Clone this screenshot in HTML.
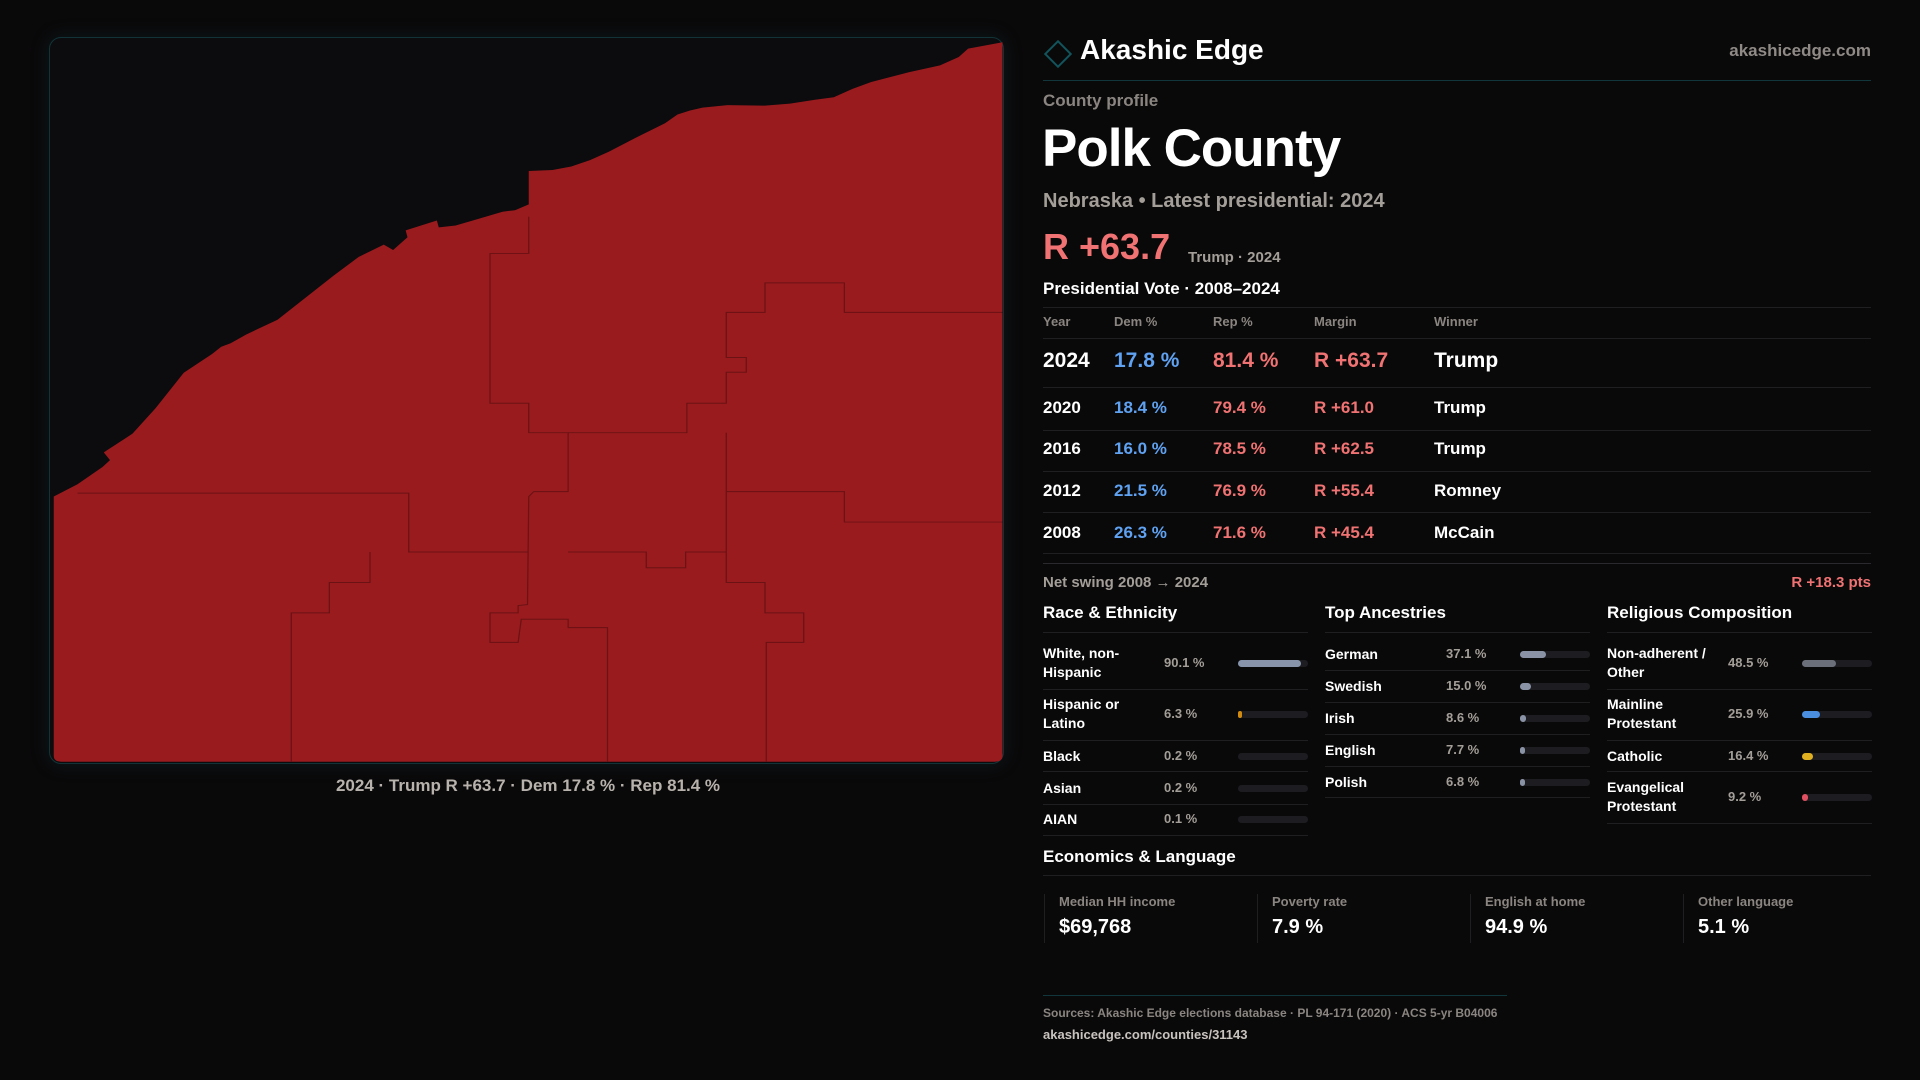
<!DOCTYPE html>
<html><head><meta charset="utf-8">
<style>
*{box-sizing:border-box;margin:0;padding:0}
body{width:1920px;height:1080px;background:#0a090a;font-family:"Liberation Sans",sans-serif;color:#fff;position:relative;overflow:hidden}
.a{position:absolute;white-space:nowrap}
.g{color:#a39e98}
.hl{position:absolute;height:1px;background:#1f1f22}
.track{position:absolute;height:7px;border-radius:4px;background:#1d1d21}
.fill{position:absolute;left:0;top:0;height:7px;border-radius:4px}
</style></head><body>
<div class="a" style="left:49px;top:37px;width:955px;height:727px;border:1px solid #123438;border-radius:12px;background:#0c0b0d;box-shadow:0 0 18px rgba(20,70,80,0.25)"></div>
<svg class="a" style="left:40px;top:30px" width="980" height="770" viewBox="0 0 1568 1568" preserveAspectRatio="none">
<path fill="#991b1e" d="M22,950 L60,925 L100,890 L112,876 L102,860 L148,822 L185,770 L230,698 L275,660 L290,645 L305,638 L330,620 L380,590 L410,560 L470,500 L510,462 L550,437 L565,448 L588,422 L585,408 L635,388 L638,402 L665,398 L700,385 L740,370 L760,367 L782,355 L782,287 L820,285 L850,278 L880,265 L910,248 L960,215 L1000,190 L1020,172 L1040,164 L1060,158 L1100,153 L1160,154 L1200,150 L1240,142 L1270,137 L1300,120 L1330,106 L1360,96 L1390,86 L1440,72 L1470,55 L1485,38 L1540,25 L1540,1478 Q1540,1490 1528,1490 L34,1490 Q22,1490 22,1478 Z"/>
<g fill="none" stroke="#6a1214" stroke-width="2">
<polyline points="60,943 590,943 590,1063 780,1063"/>
<polyline points="528,1063 528,1125 463,1125 463,1187 402,1187 402,1490"/>
<polyline points="782,380 782,455 720,455 720,760 782,760 782,820 845,820 845,940 790,940 782,950 780,1170 765,1172 765,1187 720,1187 720,1247 765,1247 770,1200 845,1200 845,1217 908,1217 908,1490"/>
<polyline points="845,820 1035,820 1035,760 1098,760 1098,697 1130,697 1130,667 1098,667 1098,575 1160,575 1160,515 1287,515 1287,575 1540,575"/>
<polyline points="1098,820 1098,1125 1160,1125 1160,1187 1222,1187 1222,1247 1162,1247 1162,1490"/>
<polyline points="845,1063 970,1063 970,1095 1033,1095 1033,1063 1098,1063"/>
<polyline points="1098,940 1287,940 1287,1002 1540,1002"/>
</g></svg>
<div class="a g" style="left:0;width:1056px;text-align:center;top:776px;font-size:17px;font-weight:bold;color:#b8b2ac">2024 · Trump R +63.7 · Dem 17.8 % · Rep 81.4 %</div>

<div class="a" style="left:1048px;top:44px;width:20px;height:20px;border:2px solid #12545c;transform:rotate(45deg)"></div>
<div class="a" style="left:1080px;top:34px;font-size:28px;font-weight:bold">Akashic Edge</div>
<div class="a" style="right:49px;top:41px;font-size:17px;font-weight:bold;color:#8f8a86">akashicedge.com</div>
<div class="hl" style="left:1043px;width:828px;top:80px;background:#11363b"></div>
<div class="a g" style="left:1043px;top:91px;font-size:17px;font-weight:bold;color:#8a8580">County profile</div>
<div class="a" style="left:1042px;top:118px;font-size:53px;font-weight:bold;letter-spacing:-1px">Polk County</div>
<div class="a g" style="left:1043px;top:190px;font-size:20px;font-weight:bold">Nebraska • Latest presidential: 2024</div>
<div class="a" style="left:1043px;top:226px;font-size:36px;font-weight:bold;color:#f07272">R +63.7</div>
<div class="a g" style="left:1188px;top:249px;font-size:15px;font-weight:bold">Trump · 2024</div>
<div class="a" style="left:1043px;top:279px;font-size:17px;font-weight:bold">Presidential Vote · 2008–2024</div>
<div class="hl" style="left:1043px;width:828px;top:307px"></div>
<div id="table"></div>
<div class="hl" style="left:1043px;width:828px;top:563px;background:#2a2a2e"></div>
<div class="a g" style="left:1043px;top:574px;font-size:15px;font-weight:bold">Net swing 2008 → 2024</div>
<div class="a" style="right:49px;top:574px;font-size:15px;font-weight:bold;color:#f07272">R +18.3 pts</div>
<div id="demo"></div>
<div class="a" style="left:1043px;top:847px;font-size:17px;font-weight:bold">Economics &amp; Language</div>
<div class="hl" style="left:1043px;width:828px;top:875px"></div>
<div id="econ"></div>
<div class="hl" style="left:1043px;width:464px;top:995px;background:#11363b"></div>
<div class="a g" style="left:1043px;top:1006px;font-size:12px;font-weight:bold;color:#8a8580">Sources: Akashic Edge elections database · PL 94-171 (2020) · ACS 5-yr B04006</div>
<div class="a" style="left:1043px;top:1027px;font-size:13px;font-weight:bold;color:#c8c3be">akashicedge.com/counties/31143</div>
<script>
const years=["2024","2020","2016","2012","2008"];
const dem=[17.8,18.4,16.0,21.5,26.3];
const rep=[81.4,79.4,78.5,76.9,71.6];
const margins=[63.7,61.0,62.5,55.4,45.4];
const winners=["Trump","Trump","Trump","Romney","McCain"];
const raceLabels=["White, non-<br>Hispanic","Hispanic or<br>Latino","Black","Asian","AIAN"];
const raceVals=[90.1,6.3,0.2,0.2,0.1];
const ancLabels=["German","Swedish","Irish","English","Polish"];
const ancVals=[37.1,15.0,8.6,7.7,6.8];
const relLabels=["Non-adherent /<br>Other","Mainline<br>Protestant","Catholic","Evangelical<br>Protestant"];
const relVals=[48.5,25.9,16.4,9.2];
const econLabels=["Median HH income","Poverty rate","English at home","Other language"];
const econVals=["$69,768","7.9 %","94.9 %","5.1 %"];

function mk(parent,html,style,name){const d=document.createElement('div');d.className='a';d.innerHTML=html;d.style.cssText=style;


parent.appendChild(d);return d;}
const T=document.getElementById('table');
const cx=[1043,1114,1213,1314,1434];
["Year","Dem %","Rep %","Margin","Winner"].forEach((h,i)=>mk(T,h,`left:${cx[i]}px;top:314px;font-size:13px;font-weight:bold;color:#8a8580`,'table-header'));
const hl=d=>{const e=document.createElement('div');e.className='hl';e.style.cssText=d;T.appendChild(e);};
hl('left:1043px;width:828px;top:338px');
const rowY=[361,408,449,491,533],lineY=[387,430,471,512,553];
years.forEach((y,i)=>{const fs=i==0?21:17,t=rowY[i]-fs*0.58;
mk(T,y,`left:${cx[0]}px;top:${t}px;font-size:${fs}px;font-weight:bold`,'row-year');
mk(T,dem[i].toFixed(1)+' %',`left:${cx[1]}px;top:${t}px;font-size:${fs}px;font-weight:bold;color:#5fa2f2`,'row-dem');
mk(T,rep[i].toFixed(1)+' %',`left:${cx[2]}px;top:${t}px;font-size:${fs}px;font-weight:bold;color:#f07272`,'row-rep');
mk(T,'R +'+margins[i].toFixed(1),`left:${cx[3]}px;top:${t}px;font-size:${fs}px;font-weight:bold;color:#f07272`,'row-margin');
mk(T,winners[i],`left:${cx[4]}px;top:${t}px;font-size:${fs}px;font-weight:bold`,'row-winner');
hl(`left:1043px;width:828px;top:${lineY[i]}px`);});

const D=document.getElementById('demo');
function panel(x,title,labels,vals,centers,seps,colors,name){
 mk(D,title,`left:${x}px;top:603px;font-size:17px;font-weight:bold`,name+'-title');
 seps.forEach(s=>{const e=document.createElement('div');e.className='hl';e.style.cssText=`left:${x}px;width:265px;top:${s}px`;D.appendChild(e);});
 labels.forEach((l,i)=>{const two=l.includes('<br>');
  mk(D,l,`left:${x}px;top:${centers[i]-(two?19:9)}px;font-size:14px;font-weight:bold;line-height:19px`,name+'-label');
  mk(D,vals[i].toFixed(1)+' %',`left:${x+121}px;top:${centers[i]-8}px;font-size:13px;font-weight:bold;color:#a39e98`,name+'-value');
  const tr=document.createElement('div');tr.className='track';tr.style.cssText=`left:${x+195}px;top:${centers[i]-3}px;width:70px`;
  
  
  const f=document.createElement('div');f.className='fill';f.style.width=(vals[i]>=1?Math.max(vals[i]*0.7,4):0)+'px';f.style.background=colors[i];tr.appendChild(f);D.appendChild(tr);});
}
panel(1043,'Race &amp; Ethnicity',raceLabels,raceVals,[663,714,756,788,819],[632,689,740,771,804,835],['#8794aa','#d08a10','#555','#555','#555'],'race');
panel(1325,'Top Ancestries',ancLabels,ancVals,[654,686,718,750,782],[632,670,702,734,766,797],['#8a93a6','#8a93a6','#8a93a6','#8a93a6','#8a93a6'],'ancestry');
panel(1607,'Religious Composition',relLabels,relVals,[663,714,756,797],[632,689,740,771,823],['#6a6f7a','#4a8ee0','#e0b020','#e05060'],'religion');

const E=document.getElementById('econ');
const ex=[1044,1257,1470,1683];
econLabels.forEach((l,i)=>{
 const c=document.createElement('div');c.className='a';c.style.cssText=`left:${ex[i]}px;top:894px;width:1px;height:49px;background:#1f1f22`;E.appendChild(c);
 mk(E,l,`left:${ex[i]+15}px;top:894px;font-size:13px;font-weight:bold;color:#8a8580`,'econ-label');
 mk(E,econVals[i],`left:${ex[i]+15}px;top:916px;font-size:20px;font-weight:bold`,'econ-value');});
</script>
</body></html>
